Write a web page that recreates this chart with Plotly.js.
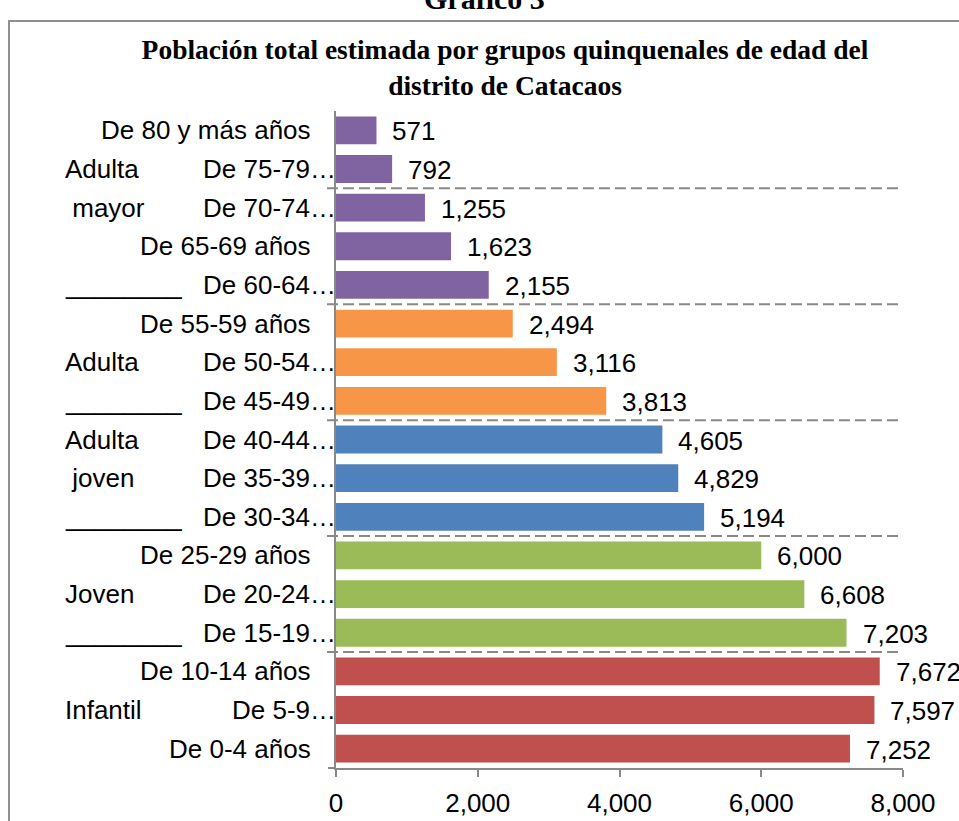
<!DOCTYPE html>
<html>
<head>
<meta charset="utf-8">
<script src="https://cdn.plot.ly/plotly-3.0.1.min.js"></script>
<style>html,body{margin:0;padding:0;background:#fff;}#chart{width:959px;height:821px;}</style>
</head>
<body>
<div id="chart"></div>
<script>
// ---- data (bottom to top, as drawn) ----
const categories = ["De 0-4 años","De 5-9 años","De 10-14 años","De 15-19 años","De 20-24 años","De 25-29 años","De 30-34 años","De 35-39 años","De 40-44 años","De 45-49 años","De 50-54 años","De 55-59 años","De 60-64 años","De 65-69 años","De 70-74 años","De 75-79 años","De 80 y más años"];
const population = [7252,7597,7672,7203,6608,6000,5194,4829,4605,3813,3116,2494,2155,1623,1255,792,571];
const groupOfRow = ["Infantil","Infantil","Infantil","Joven","Joven","Joven","Adulta joven","Adulta joven","Adulta joven","Adulta","Adulta","Adulta","Adulta mayor","Adulta mayor","Adulta mayor","Adulta mayor","Adulta mayor"];
const outerLabels = ["","Infantil","","________","Joven","","________","\u00a0joven","Adulta","________","Adulta","","________","","\u00a0mayor","Adulta",""];
const groupColors = {"Infantil":"#C0504D","Joven":"#9BBB59","Adulta joven":"#4F81BD","Adulta":"#F79646","Adulta mayor":"#8064A2"};
const separators = [2.5,5.5,8.5,11.5,14.5];
const xTicks = [0,2000,4000,6000,8000];
const chartTitle = "Población total estimada por grupos quinquenales de edad del<br>distrito de Catacaos";
const headerText = "Gráfico 3";

// ---- layout geometry ----
const W = 959, H = 821;
const M = {l:336, r:56, t:111, b:53};
const pw = W - M.l - M.r, ph = H - M.t - M.b;
const px = v => (v - M.l) / pw;        // pixel x -> paper
const py = v => (H - M.b - v) / ph;    // pixel y -> paper
const SANS = "Liberation Sans, Arial, sans-serif";
const SERIF = "Liberation Serif, Times New Roman, serif";
const GRAY = "#898989";

const fmt = n => n.toLocaleString("en-US");

const trace = {
  type: "bar",
  orientation: "h",
  x: population,
  y: categories,
  marker: {color: groupOfRow.map(g => groupColors[g]), line: {width: 0}},
  hoverinfo: "skip",
  showlegend: false
};

const annotations = [];
// value labels
population.forEach((v, i) => {
  annotations.push({xref: "x", yref: "y", x: v, y: categories[i], text: fmt(v),
    xanchor: "left", yanchor: "middle", xshift: 14, yshift: -1, showarrow: false,
    font: {family: SANS, size: 26, color: "#000"}});
});
// inner category labels
categories.forEach((c, i) => {
  const truncated = outerLabels[i] !== "";
  annotations.push({xref: "paper", yref: "y", x: truncated ? px(338) : px(313), y: c,
    text: truncated ? c.replace(" años", "…") : c,
    xanchor: "right", yanchor: "middle", showarrow: false,
    font: {family: SANS, size: 26, color: "#000"}});
});
// outer group labels
outerLabels.forEach((t, i) => {
  if (!t) return;
  annotations.push({xref: "paper", yref: "y", x: px(63), y: categories[i], text: t,
    xanchor: "left", yanchor: "middle", showarrow: false,
    font: {family: SANS, size: 26, color: "#000"}});
});
// header
annotations.push({xref: "paper", yref: "paper", x: px(484), y: py(17), text: "<b>" + headerText + "</b>",
  xanchor: "center", yanchor: "bottom", showarrow: false,
  font: {family: SERIF, size: 30, color: "#000"}});

const shapes = [];
separators.forEach(s => {
  shapes.push({type: "line", xref: "paper", yref: "y", x0: px(327), x1: px(903), y0: s, y1: s,
    line: {color: GRAY, width: 2, dash: "11px,5px"}});
});
// small extension of category axis to the left
shapes.push({type: "line", xref: "paper", yref: "paper", x0: px(328), x1: 0, y0: 0, y1: 0,
  line: {color: GRAY, width: 2}});
// chart frame
shapes.push({type: "rect", xref: "paper", yref: "paper", x0: px(9), x1: px(1000), y0: py(900), y1: py(21),
  line: {color: "#8f8f8f", width: 2}, fillcolor: "rgba(0,0,0,0)"});

const layout = {
  width: W, height: H, autosize: false,
  margin: M,
  paper_bgcolor: "#fff", plot_bgcolor: "#fff",
  bargap: 0.28,
  title: {text: "<b>" + chartTitle + "</b>", xref: "container", yref: "container",
    x: 505 / W, xanchor: "center", y: 1 - 59 / H, yanchor: "top",
    font: {family: SERIF, size: 27.5, color: "#000"}},
  xaxis: {range: [0, 8000], tickvals: xTicks, ticktext: xTicks.map(fmt),
    showline: true, linecolor: GRAY, linewidth: 2,
    ticks: "outside", ticklen: 7, tickwidth: 2, tickcolor: GRAY,
    showgrid: false, zeroline: false, ticklabelstandoff: 4,
    tickfont: {family: SANS, size: 26, color: "#000"}, fixedrange: true},
  yaxis: {type: "category", categoryorder: "array", categoryarray: categories,
    range: [-0.5, categories.length - 0.5], showticklabels: false,
    showline: true, linecolor: GRAY, linewidth: 2, ticks: "",
    showgrid: false, zeroline: false, fixedrange: true},
  annotations: annotations,
  shapes: shapes
};

Plotly.newPlot("chart", [trace], layout, {displayModeBar: false, staticPlot: true});
</script>
</body>
</html>
